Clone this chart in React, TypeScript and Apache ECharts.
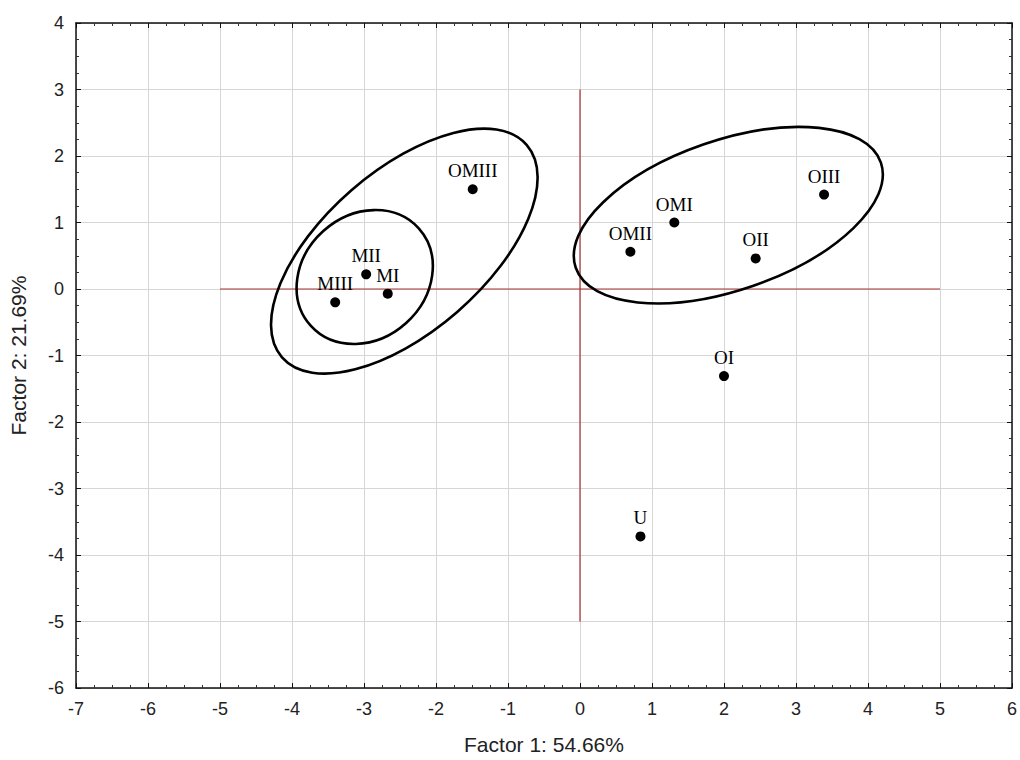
import React, { useEffect, useRef } from "react";
import * as echarts from "echarts";

// Factor scores (Factor 1, Factor 2) for each sample
const pointNames = ["OMIII", "MII", "MI", "MIII", "OMII", "OMI", "OII", "OIII", "OI", "U"];
const factor1Scores = [-1.49, -2.97, -2.67, -3.4, 0.7, 1.31, 2.44, 3.39, 2.0, 0.84];
const factor2Scores = [1.5, 0.22, -0.07, -0.2, 0.56, 1.0, 0.46, 1.42, -1.31, -3.72];

// Grouping ellipses: centre (data units), semi-axes (x-axis units), tilt in degrees
const ellipseCenterX = [-2.99, -2.44, 2.06];
const ellipseCenterY = [0.18, 0.57, 1.11];
const ellipseSemiMajor = [1.01, 2.25, 2.24];
const ellipseSemiMinor = [0.86, 1.12, 1.04];
const ellipseTiltDeg = [42, 41, 19];

// Red reference lines through the origin
const hRefX = [-5, 5];
const hRefY = [0, 0];
const vRefX = [0, 0];
const vRefY = [-5, 3];

// Axis ranges
const xRange = [-7, 6];
const yRange = [-6, 4];

const tickFont = "Arial, 'Liberation Sans', sans-serif";
const serifFont = "'Liberation Serif', 'Times New Roman', serif";

function makeAxis(kind: "x" | "y", primary: boolean) {
  const range = kind === "x" ? xRange : yRange;
  return {
    type: "value",
    position: kind === "x" ? (primary ? "bottom" : "top") : primary ? "left" : "right",
    min: range[0],
    max: range[1],
    interval: 1,
    axisLine: { show: true, onZero: false, lineStyle: { color: "#111", width: 1.5 } },
    axisTick: { show: true, inside: true, length: 5, lineStyle: { color: "#111", width: 1 } },
    minorTick: { show: true, splitNumber: 4, length: 3, lineStyle: { color: "#333", width: 1 } },
    splitLine: { show: primary, lineStyle: { color: "#d6d6d6", width: 1 } },
    axisLabel: {
      show: primary,
      margin: 12,
      fontSize: 18,
      color: "#222",
      fontFamily: tickFont,
    },
    name: primary ? (kind === "x" ? "Factor 1: 54.66%" : "Factor 2: 21.69%") : "",
    nameLocation: "middle",
    nameGap: kind === "x" ? 46 : 47,
    nameTextStyle: { fontSize: 21, color: "#222", fontFamily: tickFont },
  };
}

export default function App() {
  const ref = useRef<HTMLDivElement>(null);

  useEffect(() => {
    if (!ref.current) return;
    const chart = echarts.init(ref.current, null, { renderer: "svg" });

    const points = pointNames.map((n, i) => ({ name: n, value: [factor1Scores[i], factor2Scores[i]] }));
    const ellipses = ellipseCenterX.map((cx, i) => [
      cx,
      ellipseCenterY[i],
      ellipseSemiMajor[i],
      ellipseSemiMinor[i],
      ellipseTiltDeg[i],
    ]);

    chart.setOption({
      animation: false,
      backgroundColor: "#fff",
      grid: { left: 76, top: 23, right: 5, bottom: 69, containLabel: false },
      xAxis: [makeAxis("x", true), makeAxis("x", false)],
      yAxis: [makeAxis("y", true), makeAxis("y", false)],
      series: [
        {
          type: "line",
          silent: true,
          symbol: "none",
          data: hRefX.map((x, i) => [x, hRefY[i]]),
          lineStyle: { color: "#a83232", width: 1.2 },
          z: 1,
        },
        {
          type: "line",
          silent: true,
          symbol: "none",
          data: vRefX.map((x, i) => [x, vRefY[i]]),
          lineStyle: { color: "#a83232", width: 1.2 },
          z: 1,
        },
        {
          type: "custom",
          silent: true,
          data: ellipses,
          z: 3,
          renderItem: (params: any, api: any) => {
            const c = api.coord([api.value(0), api.value(1)]);
            const unit = api.size([1, 0])[0];
            return {
              type: "ellipse",
              x: c[0],
              y: c[1],
              rotation: (api.value(4) * Math.PI) / 180,
              shape: { cx: 0, cy: 0, rx: api.value(2) * unit, ry: api.value(3) * unit },
              style: { fill: "none", stroke: "#000", lineWidth: 2.6 },
            };
          },
        },
        {
          type: "scatter",
          data: points,
          symbol: "circle",
          symbolSize: 10,
          itemStyle: { color: "#000", opacity: 1 },
          z: 4,
          label: {
            show: true,
            position: "top",
            distance: 4,
            formatter: (p: any) => p.name,
            fontFamily: serifFont,
            fontSize: 19,
            color: "#000",
          },
        },
      ],
    });

    return () => chart.dispose();
  }, []);

  return (
    <div
      ref={ref}
      style={{ position: "fixed", left: 0, top: 0, width: 1020, height: 760, background: "#fff" }}
    />
  );
}
